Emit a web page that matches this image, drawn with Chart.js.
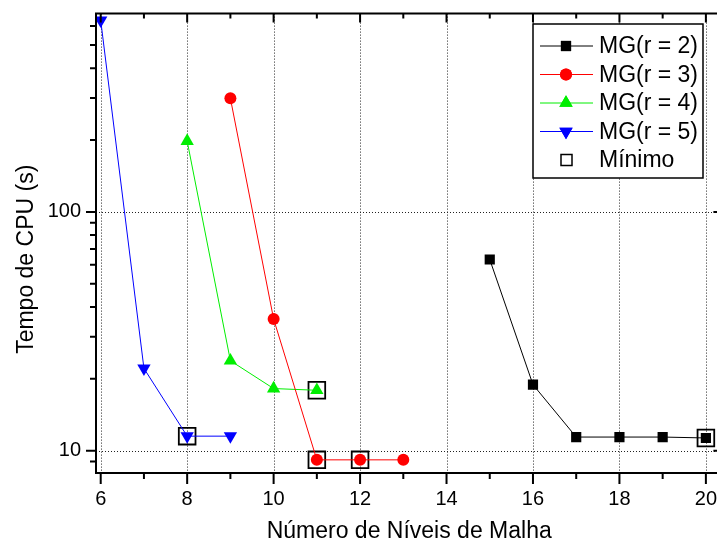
<!DOCTYPE html>
<html>
<head>
<meta charset="utf-8">
<script src="https://cdn.jsdelivr.net/npm/chart.js@4/dist/chart.umd.min.js"></script>
<style>
  body { margin: 0; background: #fff; overflow: hidden; }
  #wrap { width: 736px; height: 545px; }
</style>
</head>
<body>
<div id="wrap"><canvas id="grafico"></canvas></div>
<script>
// dados
const xR2 = [15, 16, 17, 18, 19, 20];
const yR2 = [63.2, 18.9, 11.4, 11.4, 11.4, 11.3];
const xR3 = [9, 10, 11, 12, 13];
const yR3 = [299, 35.6, 9.15, 9.15, 9.15];
const xR4 = [8, 9, 10, 11];
const yR4 = [198, 23.8, 18.2, 17.9];
const xR5 = [6, 7, 8, 9];
const yR5 = [634, 22.1, 11.5, 11.5];
const xMin = [8, 11, 11, 12, 20];
const yMin = [11.5, 17.9, 9.15, 9.15, 11.3];

const xTicks = [6, 8, 10, 12, 14, 16, 18, 20];
const xMinor = [7, 9, 11, 13, 15, 17, 19];
const yTicks = [10, 100];
const yMinor = [9, 20, 30, 40, 50, 60, 70, 80, 90, 200, 300, 400, 500, 600];

const legendas = ['MG(r = 2)', 'MG(r = 3)', 'MG(r = 4)', 'MG(r = 5)', 'Mínimo'];

const FONTE = '"Liberation Sans", Arial, sans-serif';

function pts(xs, ys) {
    return xs.map((x, i) => ({ x: x, y: ys[i] }));
}

function serie(label, xs, ys, cor, estilo, raio, rot) {
    return {
        label: label,
        data: pts(xs, ys),
        showLine: true,
        borderColor: cor,
        borderWidth: 1,
        backgroundColor: cor,
        pointStyle: estilo,
        pointRadius: raio,
        pointRotation: rot || 0,
        pointBorderWidth: 0,
        pointBackgroundColor: cor,
        pointHoverRadius: raio
    };
}

const datasets = [
    serie(legendas[0], xR2, yR2, '#000000', 'rect', 7.2),
    serie(legendas[1], xR3, yR3, '#ff0000', 'circle', 6),
    serie(legendas[2], xR4, yR4, '#00ee00', 'triangle', 7.7),
    serie(legendas[3], xR5, yR5, '#0000ff', 'triangle', 7.7, 180),
    {
        label: legendas[4],
        data: pts(xMin, yMin),
        showLine: false,
        pointStyle: 'rect',
        pointRadius: 11.8,
        pointHoverRadius: 11.8,
        pointBackgroundColor: 'rgba(0,0,0,0)',
        pointBorderColor: '#000',
        pointBorderWidth: 1.8
    }
];

// eixos, ticks menores e grade pontilhada
const moldura = {
    id: 'moldura',
    beforeDatasetsDraw(chart) {
        const { ctx, chartArea: a, scales: { x, y } } = chart;
        ctx.save();
        ctx.strokeStyle = '#222';
        ctx.lineWidth = 1;
        ctx.setLineDash([1, 2]);
        xTicks.forEach(v => {
            const px = Math.round(x.getPixelForValue(v)) + 0.5;
            ctx.beginPath(); ctx.moveTo(px, a.top); ctx.lineTo(px, a.bottom); ctx.stroke();
        });
        yTicks.forEach(v => {
            const py = Math.round(y.getPixelForValue(v)) + 0.5;
            ctx.beginPath(); ctx.moveTo(a.left, py); ctx.lineTo(a.right, py); ctx.stroke();
        });
        ctx.restore();
    },
    afterDraw(chart) {
        const { ctx, chartArea: a, scales: { x, y } } = chart;
        ctx.save();
        ctx.strokeStyle = '#000';
        ctx.lineWidth = 2;
        ctx.setLineDash([]);
        ctx.beginPath();
        ctx.moveTo(a.left, a.top); ctx.lineTo(a.left, a.bottom + 1);
        ctx.moveTo(a.left - 1, a.bottom); ctx.lineTo(a.right, a.bottom);
        ctx.moveTo(a.left - 1, a.top); ctx.lineTo(a.right, a.top);
        ctx.moveTo(a.right, a.top); ctx.lineTo(a.right, a.bottom);
        ctx.stroke();
        const marcaX = (v, len) => {
            const px = x.getPixelForValue(v);
            ctx.beginPath();
            ctx.moveTo(px, a.bottom); ctx.lineTo(px, a.bottom + len);
            ctx.moveTo(px, a.top); ctx.lineTo(px, a.top + (len > 6 ? 9 : 5));
            ctx.stroke();
        };
        const marcaY = (v, len) => {
            const py = y.getPixelForValue(v);
            ctx.beginPath();
            ctx.moveTo(a.left, py); ctx.lineTo(a.left - len, py);
            ctx.moveTo(a.right, py); ctx.lineTo(a.right - (len > 6 ? 9 : 5), py);
            ctx.stroke();
        };
        xTicks.forEach(v => marcaX(v, 11));
        xMinor.forEach(v => marcaX(v, 6));
        yTicks.forEach(v => marcaY(v, 10));
        yMinor.forEach(v => marcaY(v, 6));
        ctx.restore();
    }
};

// legenda com linha + marcador, dentro do grafico
const legenda = {
    id: 'legenda',
    afterDraw(chart) {
        const ctx = chart.ctx;
        const bx = 533, by = 24, bw = 170, bh = 154;
        ctx.save();
        ctx.fillStyle = '#fff';
        ctx.fillRect(bx, by, bw, bh);
        ctx.strokeStyle = '#000';
        ctx.lineWidth = 1.5;
        ctx.strokeRect(bx, by, bw, bh);
        ctx.font = '23px ' + FONTE;
        ctx.textBaseline = 'middle';
        ctx.textAlign = 'left';
        chart.data.datasets.forEach((ds, i) => {
            const cy = 46 + i * 28.5;
            if (ds.showLine) {
                ctx.strokeStyle = ds.borderColor;
                ctx.lineWidth = 1;
                ctx.beginPath(); ctx.moveTo(540, cy); ctx.lineTo(593, cy); ctx.stroke();
                ctx.fillStyle = ds.pointBackgroundColor;
                Chart.helpers.drawPoint(ctx, {
                    pointStyle: ds.pointStyle, radius: ds.pointRadius,
                    rotation: ds.pointRotation, borderWidth: 0
                }, 566, cy);
                ctx.fill();
            } else {
                ctx.fillStyle = '#fff';
                ctx.strokeStyle = '#000';
                ctx.lineWidth = 1.5;
                ctx.strokeRect(561, cy - 5.5, 11, 11);
            }
            ctx.fillStyle = '#000';
            ctx.fillText(ds.label, 599, cy + 1);
        });
        ctx.restore();
    }
};

const ctx = document.getElementById('grafico').getContext('2d');
const grafico = new Chart(ctx, {
    type: 'scatter',
    data: { datasets: datasets },
    plugins: [moldura, legenda],
    options: {
        responsive: true,
        maintainAspectRatio: false,
        animation: false,
        layout: { padding: { top: 10, right: 0, bottom: 0, left: 0 } },
        plugins: { legend: { display: false }, tooltip: { enabled: false } },
        scales: {
            x: {
                type: 'linear',
                min: 5.891,
                max: 20.382,
                afterBuildTicks: s => { s.ticks = xTicks.map(v => ({ value: v })); },
                afterFit: s => { s.height = 72; s.paddingLeft = 0; s.paddingRight = 0; },
                grid: { display: false, drawTicks: false },
                border: { display: false },
                ticks: { color: '#000', font: { family: FONTE, size: 20 }, padding: 14, maxRotation: 0 },
                title: {
                    display: true, text: 'Número de Níveis de Malha', color: '#000',
                    font: { family: FONTE, size: 23 }, padding: { top: 0, bottom: 0 }
                }
            },
            y: {
                type: 'logarithmic',
                min: 8.06,
                max: 677,
                afterBuildTicks: s => { s.ticks = yTicks.map(v => ({ value: v })); },
                afterFit: s => { s.width = 96; s.paddingTop = 0; s.paddingBottom = 0; },
                grid: { display: false, drawTicks: false },
                border: { display: false },
                ticks: {
                    color: '#000', font: { family: FONTE, size: 20 }, padding: 15,
                    callback: v => String(v)
                },
                title: {
                    display: true, text: 'Tempo de CPU (s)     ', color: '#000',
                    font: { family: FONTE, size: 23 }, padding: { top: 13, bottom: 0 }
                }
            }
        }
    }
});
</script>
</body>
</html>
